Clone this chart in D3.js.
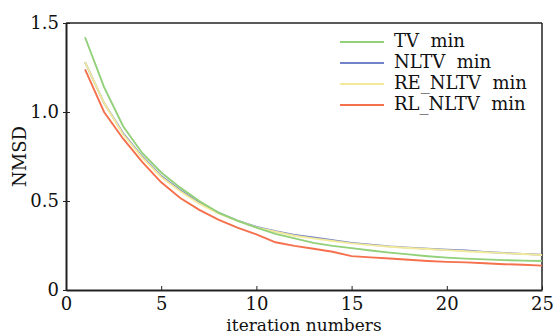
<!DOCTYPE html>
<html><head><meta charset="utf-8">
<script src="https://cdn.jsdelivr.net/npm/d3@7"></script>
<style>body{margin:0;background:#fff}svg{display:block}text{font-family:"DejaVu Serif","Liberation Serif",serif}</style>
</head><body><svg id="c" width="554" height="335"></svg>
<script>
const iterations = d3.range(1, 26);
const TV = [1.42,1.14,0.92,0.77,0.66,0.575,0.50,0.435,0.39,0.35,0.315,0.29,0.265,0.248,0.235,0.222,0.21,0.20,0.19,0.182,0.176,0.172,0.168,0.165,0.163];
const NLTV = [1.28,1.05,0.88,0.75,0.64,0.56,0.49,0.435,0.39,0.355,0.33,0.31,0.295,0.28,0.265,0.255,0.245,0.238,0.232,0.226,0.222,0.214,0.208,0.203,0.198];
const RE_NLTV = [1.28,1.05,0.875,0.745,0.635,0.555,0.485,0.43,0.388,0.352,0.327,0.305,0.29,0.275,0.262,0.252,0.243,0.236,0.23,0.224,0.218,0.212,0.207,0.202,0.197];
const RL_NLTV = [1.24,1.00,0.85,0.72,0.605,0.517,0.45,0.395,0.35,0.313,0.268,0.248,0.232,0.215,0.19,0.183,0.177,0.17,0.163,0.158,0.155,0.15,0.145,0.142,0.137];
const seriesNames = ["TV  min","NLTV  min","RE_NLTV  min","RL_NLTV  min"];
const seriesColors = ["#93d07a","#7282c8","#f2ea9a","#f5704c"];
const xTicks = [0,5,10,15,20,25];
const yTicks = [0,0.5,1.0,1.5];
const yTickLabels = ["0","0.5","1.0","1.5"];

const svg = d3.select("#c");
const L=66,R=542,T=23,B=290;
const x = d3.scaleLinear().domain([0,25]).range([L,R]);
const y = d3.scaleLinear().domain([0,1.5]).range([B,T]);

svg.append("line").attr("x1",L).attr("x2",R).attr("y1",T).attr("y2",T).attr("stroke","#222").attr("stroke-width",1.5);
svg.append("line").attr("x1",R).attr("x2",R).attr("y1",T).attr("y2",B).attr("stroke","#222").attr("stroke-width",1.5);

const data = [TV,NLTV,RE_NLTV,RL_NLTV];
const line = d3.line().x((d,i)=>x(iterations[i])).y(d=>y(d));
[1,2,0,3].forEach(k=>{
  svg.append("path").attr("d",line(data[k])).attr("fill","none").attr("stroke",seriesColors[k]).attr("stroke-width",1.9);
});

const xa = svg.append("g").attr("transform",`translate(0,${B})`)
  .call(d3.axisBottom(x).tickValues(xTicks).tickFormat(d3.format("d")).tickSizeInner(-4).tickSizeOuter(0).tickPadding(7));
xa.select(".domain").attr("stroke","#222").attr("stroke-width",2);
xa.selectAll(".tick line").attr("stroke","#222");
xa.selectAll("text").attr("font-size",18).attr("fill","#111");

const ya = svg.append("g").attr("transform",`translate(${L},0)`)
  .call(d3.axisLeft(y).tickValues(yTicks).tickFormat((d,i)=>yTickLabels[i]).tickSizeInner(-4).tickSizeOuter(0).tickPadding(7));
ya.select(".domain").attr("stroke","#222").attr("stroke-width",2);
ya.selectAll(".tick line").attr("stroke","#222").attr("x1",-3);
ya.selectAll("text").attr("font-size",18).attr("fill","#111");

svg.append("text").attr("x",(L+R)/2).attr("y",331).attr("text-anchor","middle").attr("font-size",17).attr("fill","#111").text("iteration numbers");
svg.append("text").attr("transform",`translate(26,${(T+B)/2}) rotate(-90)`).attr("text-anchor","middle").attr("font-size",18).attr("fill","#111").text("NMSD");

const lg = svg.append("g");
seriesNames.forEach((n,i)=>{
  const yy = 42 + i*21;
  lg.append("line").attr("x1",340).attr("x2",384).attr("y1",yy).attr("y2",yy).attr("stroke",seriesColors[i]).attr("stroke-width",1.9);
  lg.append("text").attr("x",394).attr("y",yy+5).attr("font-size",18).attr("fill","#111").style("white-space","pre").text(n);
});
</script></body></html>
